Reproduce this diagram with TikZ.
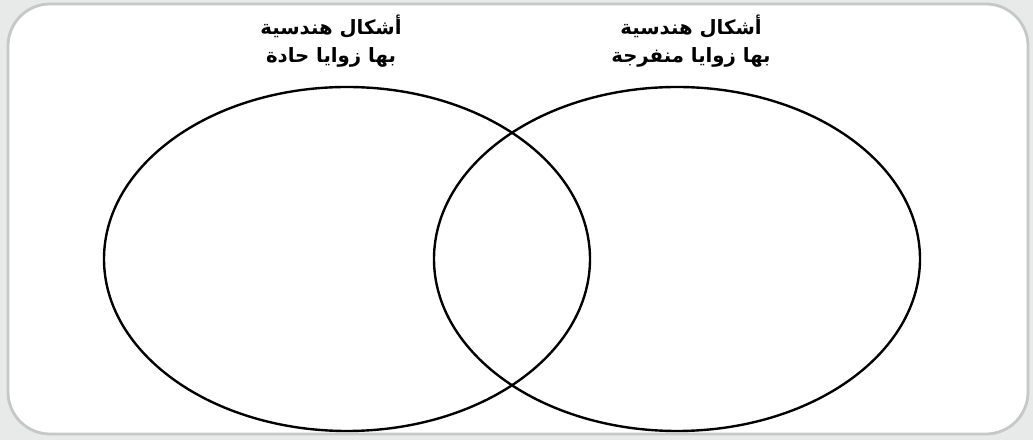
\documentclass[tikz,border=0pt]{standalone}
\usepackage{fontspec}
\newfontfamily\arabicfont[Script=Arabic]{DejaVu Sans}
\TeXXeTstate=1
\usetikzlibrary{positioning}
\definecolor{framegray}{HTML}{C6C8C8}
\definecolor{outergray}{HTML}{E8EAEA}
\tikzset{
  setline/.style={line width=1.7pt},
  settitle/.style={font=\arabicfont\bfseries\fontsize{14}{19.5}\selectfont, align=center, inner sep=0pt},
}

\begin{document}
\begin{tikzpicture}
    \fill[outergray] (0,0) rectangle (25.825,11);
    \draw[framegray, line width=2pt, fill=white, rounded corners=1.05cm] (0.2,0.15) rectangle (25.7,10.9);
    % two sets
    \draw[setline] (8.675,4.525) ellipse [x radius=6.075cm, y radius=4.3cm];
    \draw[setline] (16.925,4.525) ellipse [x radius=6.075cm, y radius=4.3cm];
    \node[settitle] (acute) at (8.275,9.97) {\beginR أشكال هندسية\endR\\\beginR بها زوايا حادة\endR};
    \node[settitle] (obtuse) at (17.275,9.97) {\beginR أشكال هندسية\endR\\\beginR بها زوايا منفرجة\endR};
  \end{tikzpicture}
\end{document}
